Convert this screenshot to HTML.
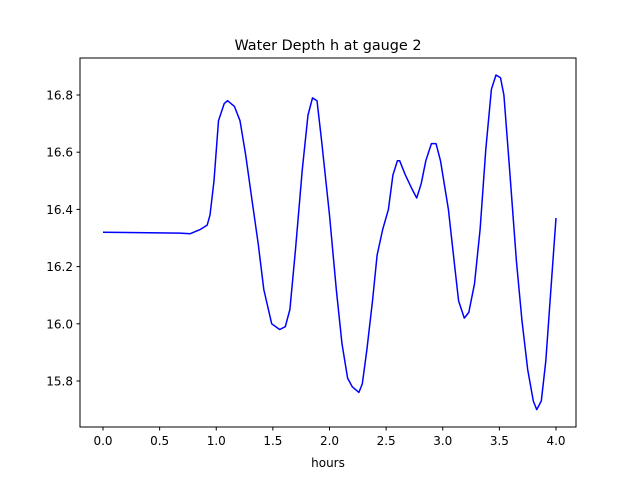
<!DOCTYPE html>
<html><head><meta charset="utf-8"><style>
html,body{margin:0;padding:0;background:#fff;}
svg text{font-family:"DejaVu Sans","Liberation Sans",sans-serif;}
</style></head><body>
<svg id="chart" width="640" height="480" xmlns="http://www.w3.org/2000/svg">
<rect width="640" height="480" fill="#fff"/>
<text x="328" y="50" font-size="14.4" text-anchor="middle">Water Depth h at gauge 2</text>
<g id="ticks"></g>
<path id="line" fill="none" stroke="#0000ff" stroke-width="1.5" stroke-linejoin="round"/>
<rect x="80" y="58" width="496" height="369" fill="none" stroke="#000" stroke-width="1"/>
<text x="328" y="467" font-size="12" text-anchor="middle">hours</text>
</svg>
<script>
const hours=[0,0.68,0.77,0.86,0.92,0.945,0.98,1.02,1.07,1.10,1.16,1.21,1.26,1.32,1.37,1.42,1.49,1.56,1.61,1.65,1.70,1.76,1.81,1.85,1.89,1.93,2.00,2.06,2.11,2.16,2.20,2.26,2.29,2.33,2.38,2.42,2.47,2.52,2.56,2.60,2.62,2.67,2.73,2.77,2.81,2.85,2.90,2.94,2.98,3.05,3.10,3.14,3.19,3.23,3.28,3.33,3.38,3.43,3.47,3.51,3.54,3.59,3.65,3.70,3.75,3.80,3.83,3.87,3.91,3.96,4.0];
const depth=[16.32,16.317,16.315,16.33,16.345,16.38,16.50,16.71,16.77,16.78,16.76,16.71,16.59,16.42,16.28,16.12,16.00,15.98,15.99,16.05,16.26,16.54,16.73,16.79,16.78,16.64,16.38,16.12,15.93,15.81,15.78,15.76,15.79,15.91,16.08,16.24,16.33,16.40,16.52,16.57,16.57,16.52,16.47,16.44,16.49,16.57,16.63,16.63,16.57,16.40,16.22,16.08,16.02,16.04,16.14,16.33,16.61,16.82,16.87,16.86,16.80,16.54,16.22,16.01,15.84,15.73,15.70,15.73,15.87,16.15,16.37];
const xTicks=[0,0.5,1,1.5,2,2.5,3,3.5,4];
const xTickLabels=["0.0","0.5","1.0","1.5","2.0","2.5","3.0","3.5","4.0"];
const yTicks=[15.8,16.0,16.2,16.4,16.6,16.8];
const yTickLabels=["15.8","16.0","16.2","16.4","16.6","16.8"];
const X=v=>103+v*113.25;
const Y=v=>95+(16.8-v)*286;
const NS="http://www.w3.org/2000/svg";
const g=document.getElementById('ticks');
xTicks.forEach((t,i)=>{
 const l=document.createElementNS(NS,'line');
 
 
 l.setAttribute('x1',X(t));l.setAttribute('x2',X(t));l.setAttribute('y1',427);l.setAttribute('y2',430.5);l.setAttribute('stroke','#000');
 g.appendChild(l);
 const tx=document.createElementNS(NS,'text');
 
 
 tx.setAttribute('x',X(t));tx.setAttribute('y',445);tx.setAttribute('font-size','12');tx.setAttribute('text-anchor','middle');
 tx.textContent=xTickLabels[i];g.appendChild(tx);
});
yTicks.forEach((t,i)=>{
 const l=document.createElementNS(NS,'line');
 
 
 l.setAttribute('x1',76.5);l.setAttribute('x2',80);l.setAttribute('y1',Y(t));l.setAttribute('y2',Y(t));l.setAttribute('stroke','#000');
 g.appendChild(l);
 const tx=document.createElementNS(NS,'text');
 
 
 tx.setAttribute('x',73);tx.setAttribute('y',Y(t)+4.5);tx.setAttribute('font-size','12');tx.setAttribute('text-anchor','end');
 tx.textContent=yTickLabels[i];g.appendChild(tx);
});
let d='';
hours.forEach((h,i)=>{d+=(i?'L':'M')+X(h).toFixed(1)+' '+Y(depth[i]).toFixed(1);});
document.getElementById('line').setAttribute('d',d);
</script>
</body></html>
